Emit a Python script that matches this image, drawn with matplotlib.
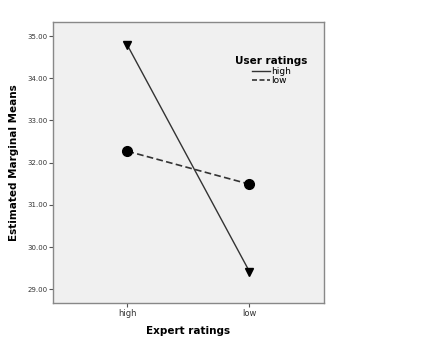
import matplotlib
matplotlib.use('Agg')
import matplotlib.pyplot as plt
from matplotlib.lines import Line2D

# 数据
expert = ['high', 'low']
user_high = [34.78, 29.42]
user_low = [32.27, 31.49]
yticks = [29.0, 30.0, 31.0, 32.0, 33.0, 34.0, 35.0]

plt.rcParams['font.family'] = ['DejaVu Sans']

fig = plt.figure(figsize=(4.32, 3.62), dpi=100)
ax = fig.add_axes([0.1227, 0.163, 0.627, 0.776])
ax.set_facecolor('#f0f0f0')

x = range(len(expert))
ax.plot(x, user_high, color='#333333', lw=1.0, ls='-', marker='v',
        ms=5.5, mfc='black', mec='black', zorder=3)
ax.plot(x, user_low, color='#333333', lw=1.2, ls=(0, (4, 2)), marker='o',
        ms=7, mfc='black', mec='black', zorder=3)

ax.set_xlim(-0.61, 1.61)
ax.set_ylim(28.675, 35.33)
ax.set_xticks(list(x))
ax.set_xticklabels(expert, fontsize=6, color='#333333')
ax.set_yticks(yticks)
ax.set_yticklabels(['%.2f' % v for v in yticks], fontsize=5, color='#333333')
ax.tick_params(axis='both', length=3, width=0.8, color='#555555', pad=1)

for s in ax.spines.values():
    s.set_color('#888888')
    s.set_linewidth(1.0)

ax.set_xlabel('Expert ratings', fontsize=7.5, fontweight='bold', labelpad=6)
ax.set_ylabel('Estimated Marginal Means', fontsize=7.5, fontweight='bold', labelpad=6)

handles = [Line2D([0], [0], color='#333333', lw=1.0, ls='-'),
           Line2D([0], [0], color='#333333', lw=1.2, ls=(0, (3, 1.5)))]
leg = ax.legend(handles, ['high', 'low'], title='User ratings', frameon=False,
                fontsize=6.5, title_fontsize=7.5, loc='upper left',
                bbox_to_anchor=(0.65, 0.9), handlelength=2.0, handletextpad=0.1,
                labelspacing=0.05, borderpad=0.2)
leg.get_title().set_fontweight('bold')

fig.savefig('out.png', dpi=100)
